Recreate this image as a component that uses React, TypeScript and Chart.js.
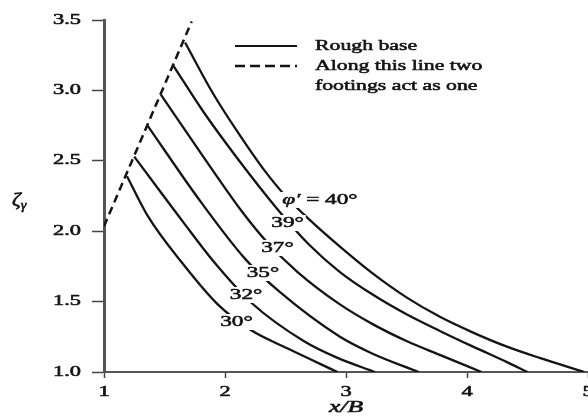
import React, { useEffect, useRef } from "react";
import { Chart, registerables } from "chart.js";

Chart.register(...registerables);

// ---- data ----
const xTickValues = [1, 2, 3, 4, 5];
const yTickValues = [1.0, 1.5, 2.0, 2.5, 3.0, 3.5];

const dashX = [1.0, 1.725];
const dashY = [2.035, 3.49];

const phi40X = [1.67, 1.9, 2.1, 2.31, 2.5, 2.7, 2.95, 3.22, 3.5, 3.78, 4.05, 4.33, 4.6, 4.97];
const phi40Y = [3.34, 2.98, 2.71, 2.45, 2.25, 2.08, 1.89, 1.7, 1.53, 1.39, 1.28, 1.18, 1.1, 1.0];
const phi39X = [1.57, 1.82, 2.1, 2.43, 2.7, 2.95, 3.22, 3.5, 3.78, 4.05, 4.33, 4.5];
const phi39Y = [3.18, 2.85, 2.52, 2.16, 1.9, 1.71, 1.55, 1.41, 1.29, 1.18, 1.07, 1.0];
const phi37X = [1.47, 1.82, 2.14, 2.35, 2.6, 2.95, 3.22, 3.5, 3.78, 4.12];
const phi37Y = [2.97, 2.53, 2.14, 1.92, 1.71, 1.48, 1.34, 1.22, 1.12, 1.0];
const phi35X = [1.36, 1.79, 2.17, 2.45, 2.95, 3.22, 3.6];
const phi35Y = [2.75, 2.22, 1.8, 1.57, 1.25, 1.13, 1.0];
const phi32X = [1.25, 1.65, 1.92, 2.22, 2.65, 2.93, 3.24];
const phi32Y = [2.53, 2.07, 1.77, 1.49, 1.22, 1.1, 1.0];
const phi30X = [1.19, 1.36, 1.65, 1.94, 2.21, 2.51, 2.93];
const phi30Y = [2.39, 2.11, 1.77, 1.48, 1.3, 1.17, 1.0];

const curveLabels = ["φ′ = 40°", "39°", "37°", "35°", "32°", "30°"];
const curveLabelX = [2.785, 2.517, 2.434, 2.314, 2.174, 2.095];
const curveLabelY = [2.222, 2.058, 1.881, 1.703, 1.547, 1.355];

const legendSolidText = "Rough base";
const legendDashedText = ["Along this line two", "footings act as one"];
const xTitle = "x/B";
const yTitleMain = "ζ";
const yTitleSub = "γ";

// ---- drawing helpers ----
const SERIF = '"Liberation Serif", "Times New Roman", serif';
const INK = "#141414";

function measure(ctx: CanvasRenderingContext2D, text: string, font: string, sx: number) {
  ctx.save();
  ctx.font = font;
  const w = ctx.measureText(text).width * sx;
  ctx.restore();
  return w;
}

function drawStretched(
  ctx: CanvasRenderingContext2D,
  text: string,
  x: number,
  y: number,
  font: string,
  sx: number,
  align: "left" | "center" | "right"
) {
  const w = measure(ctx, text, font, sx);
  const left = align === "center" ? x - w / 2 : align === "right" ? x - w : x;
  ctx.save();
  ctx.font = font;
  ctx.fillStyle = INK;
  ctx.strokeStyle = INK;
  ctx.lineWidth = 0.55;
  ctx.textBaseline = "middle";
  ctx.textAlign = "left";
  ctx.translate(left, y);
  ctx.scale(sx, 1);
  ctx.fillText(text, 0, 0);
  ctx.strokeText(text, 0, 0);
  ctx.restore();
  return w;
}

const textPlugin = {
  id: "figureText",
  afterDraw(chart: any) {
    const ctx: CanvasRenderingContext2D = chart.ctx;
    const xs = chart.scales.x;
    const ys = chart.scales.y;
    const area = chart.chartArea;

    // tick labels
    const tickFont = `14px ${SERIF}`;
    ys.ticks.forEach((t: any) => {
      if (!yTickValues.includes(t.value)) return;
      drawStretched(ctx, t.value.toFixed(1), area.left - 23, ys.getPixelForValue(t.value), tickFont, 1.6, "right");
    });
    xs.ticks.forEach((t: any) => {
      if (!xTickValues.includes(t.value)) return;
      drawStretched(ctx, String(t.value), xs.getPixelForValue(t.value), area.bottom + 20, tickFont, 1.6, "center");
    });

    // axis titles
    drawStretched(ctx, xTitle, xs.getPixelForValue(3), area.bottom + 36, `italic 16px ${SERIF}`, 1.6, "center");
    const ty = (area.top + area.bottom) / 2 + 7;
    const zw = drawStretched(ctx, yTitleMain, 12, ty - 2, `italic 18px ${SERIF}`, 1.2, "left");
    drawStretched(ctx, yTitleSub, 12 + zw, ty + 3, `italic 12px ${SERIF}`, 1.2, "left");

    // curve labels with white knockout
    const lblFont = `15px ${SERIF}`;
    const lblItalic = `italic 15px ${SERIF}`;
    const sx = 1.55;
    curveLabels.forEach((label, i) => {
      const cx = xs.getPixelForValue(curveLabelX[i]);
      const cy = ys.getPixelForValue(curveLabelY[i]);
      let parts: [string, string][] = [[label, lblFont]];
      if (label.startsWith("φ′")) {
        parts = [["φ′", lblItalic], [label.slice(2), lblFont]];
      }
      const widths = parts.map(([t, f]) => measure(ctx, t, f, sx));
      const total = widths.reduce((a, b) => a + b, 0);
      ctx.save();
      ctx.fillStyle = "#ffffff";
      ctx.fillRect(cx - total / 2 - 2, cy - 8, total + 4, 16);
      ctx.restore();
      let x = cx - total / 2;
      parts.forEach(([t, f], k) => {
        drawStretched(ctx, t, x, cy, f, sx, "left");
        x += widths[k];
      });
    });

    // legend
    const lx0 = area.left + 131;
    const lx1 = area.left + 193;
    const tx = area.left + 211;
    const r1 = area.top + 26;
    const r2 = area.top + 46;
    const r3 = area.top + 66;
    ctx.save();
    ctx.strokeStyle = INK;
    ctx.lineWidth = 2;
    ctx.beginPath();
    ctx.moveTo(lx0, r1);
    ctx.lineTo(lx1, r1);
    ctx.stroke();
    ctx.setLineDash([10, 5]);
    ctx.lineWidth = 2.5;
    ctx.beginPath();
    ctx.moveTo(lx0, r2);
    ctx.lineTo(lx1, r2);
    ctx.stroke();
    ctx.restore();
    const legFont = `15px ${SERIF}`;
    drawStretched(ctx, legendSolidText, tx, r1, legFont, 1.45, "left");
    drawStretched(ctx, legendDashedText[0], tx, r2, legFont, 1.45, "left");
    drawStretched(ctx, legendDashedText[1], tx, r3, legFont, 1.45, "left");
  },
};

export default function App() {
  const ref = useRef<HTMLCanvasElement>(null);

  useEffect(() => {
    const canvas = ref.current;
    if (!canvas) return;
    const mk = (xs: number[], ys: number[]) => xs.map((x, i) => ({ x, y: ys[i] }));
    const curve = (xs: number[], ys: number[]) => ({
      data: mk(xs, ys),
      showLine: true,
      borderColor: INK,
      borderWidth: 2.3,
      pointRadius: 0,
      cubicInterpolationMode: "monotone" as const,
      fill: false,
    });
    const chart = new Chart(canvas, {
      type: "scatter",
      data: {
        datasets: [
          curve(phi40X, phi40Y),
          curve(phi39X, phi39Y),
          curve(phi37X, phi37Y),
          curve(phi35X, phi35Y),
          curve(phi32X, phi32Y),
          curve(phi30X, phi30Y),
          {
            data: mk(dashX, dashY),
            showLine: true,
            borderColor: INK,
            borderWidth: 2.5,
            borderDash: [8, 5],
            pointRadius: 0,
            fill: false,
          },
        ],
      },
      options: {
        animation: false,
        responsive: false,
        devicePixelRatio: 1,
        layout: { padding: { left: 92, right: 0, top: 20, bottom: 38 } },
        plugins: { legend: { display: false }, tooltip: { enabled: false } },
        scales: {
          x: {
            type: "linear",
            min: 1,
            max: 5,
            ticks: { display: false, stepSize: 1 },
            grid: { drawOnChartArea: false, drawTicks: true, tickLength: 6, tickColor: "#444", tickWidth: 1.5 },
            border: { display: true, color: "#555", width: 2 },
          },
          y: {
            type: "linear",
            min: 1,
            max: 3.5,
            ticks: { display: false, stepSize: 0.5 },
            grid: { drawOnChartArea: false, drawTicks: true, tickLength: 12, tickColor: "#444", tickWidth: 1.5 },
            border: { display: true, color: "#555", width: 3 },
          },
        },
      },
      plugins: [textPlugin],
    });
    return () => chart.destroy();
  }, []);

  return (
    <div style={{ position: "fixed", left: 0, top: 0, width: 588, height: 416, background: "#fff" }}>
      <canvas ref={ref} width={588} height={416} style={{ display: "block", width: 588, height: 416 }} />
    </div>
  );
}
